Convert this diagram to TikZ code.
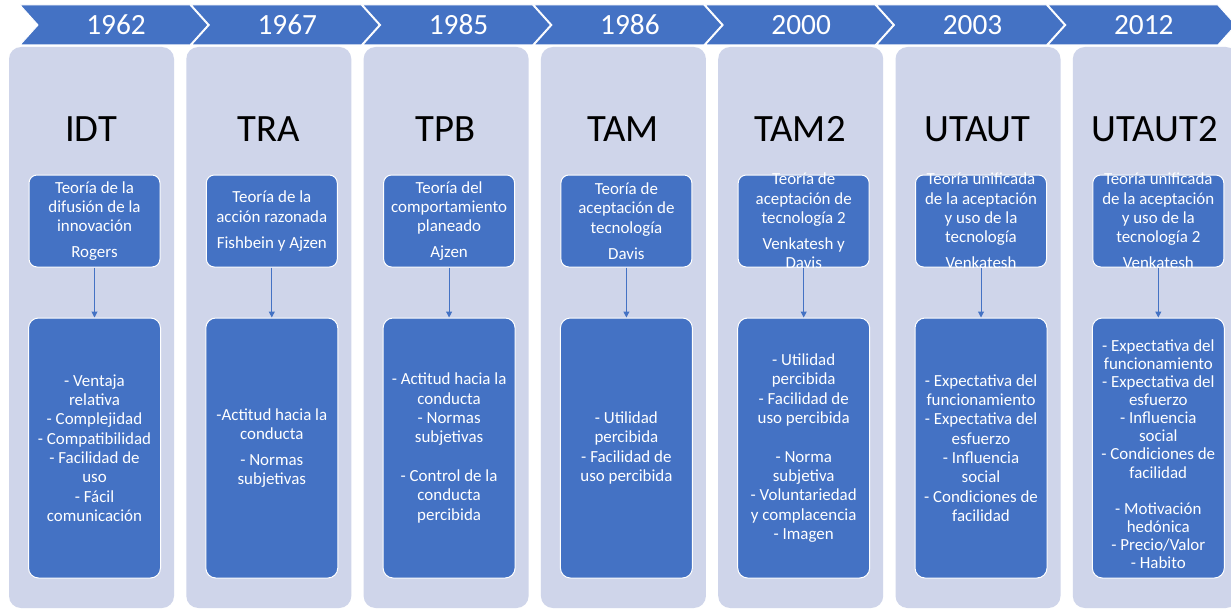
\documentclass[tikz,border=0pt]{standalone}
\usepackage{fontspec}
\setmainfont{Carlito}
\usetikzlibrary{arrows.meta}
\definecolor{accentblue}{HTML}{4472C4}
\definecolor{panelfill}{HTML}{CFD5EA}

% one column of the timeline: panel, heading, model box, arrow, factor box
% optional #1: extra options for the factor box
\newcommand\theorycol[5][]{%
  \pgfmathsetmacro\colL{9+177.3*(#2-1)}
  \node[panel] (p#2) at (\colL+82.5,327.5) {};
  \node[heading, anchor=base] (h#2) at (\colL+82,142) {#3};
  \node[topbox] (t#2) at (\colL+85.5,221) {};
  \node[boxtext] (tt#2) at (t#2.center) {#4};
  \node[botbox, boxtext, #1] (b#2) at (\colL+85.5,448) {#5};
  \draw[link] (t#2) -- (b#2);
}

\begin{document}
\begin{tikzpicture}[x=0.75pt,y=-0.75pt,
  panel/.style={fill=panelfill, rounded corners=9pt, minimum width=123.75pt,
    minimum height=420.75pt, inner sep=0pt},
  heading/.style={text=black, font=\fontsize{29}{34}\selectfont, inner sep=0pt},
  topbox/.style={fill=accentblue, draw=white, line width=0.75pt, rounded corners=6pt,
    minimum width=98.25pt, minimum height=69pt, inner sep=0pt},
  botbox/.style={fill=accentblue, draw=white, line width=0.75pt, rounded corners=7.5pt,
    minimum width=99pt, minimum height=195pt, inner sep=0pt},
  boxtext/.style={text=white, align=center, font=\fontsize{12.7}{14.5}\selectfont, inner sep=0pt},
  tightlines/.style={font=\fontsize{12.7}{13.6}\selectfont},
  link/.style={draw=accentblue, line width=0.75pt, -{Triangle[width=4.5pt,length=4.5pt]}},
  yearlabel/.style={text=white, font=\fontsize{22}{26}\selectfont, inner sep=0pt},
  chevron/.style={fill=accentblue, draw=white, line width=0.75pt}
]
\useasboundingbox (0,0) rectangle (1231,610);
\clip (0,0) rectangle (1231,610);
\fill[white] (0,0) rectangle (1231,610);

% year chevrons
\foreach \k/\yr in {0/1962,1/1967,2/1985,3/1986,4/2000,5/2003,6/2012}{
  \pgfmathsetmacro\xo{20+171.3*\k}
  \path[chevron] (\xo,5) -- (\xo+170,5) -- (\xo+188,25) -- (\xo+170,45)
    -- (\xo,45) -- (\xo+18,25) -- cycle;
  \node[yearlabel, anchor=base] (y\k) at (\xo+96,34.5) {\yr};
}

\theorycol{1}{IDT}
  {Teoría de la\\difusión de la\\innovación\\[5pt]Rogers}
  {- Ventaja\\relativa\\- Complejidad\\- Compatibilidad\\- Facilidad de\\uso\\- Fácil\\comunicación}

\theorycol{2}{TRA}
  {Teoría de la\\acción razonada\\[5pt]Fishbein y Ajzen}
  {-Actitud hacia la\\conducta\\[5pt]- Normas\\subjetivas}

\theorycol{3}{TPB}
  {Teoría del\\comportamiento\\planeado\\[5pt]Ajzen}
  {- Actitud hacia la\\conducta\\- Normas\\subjetivas\\[14.5pt]- Control de la\\conducta\\percibida}

\theorycol{4}{TAM}
  {Teoría de\\aceptación de\\tecnología\\[5pt]Davis}
  {- Utilidad\\percibida\\- Facilidad de\\uso percibida}

\theorycol{5}{TAM2}
  {Teoría de\\aceptación de\\tecnología 2\\[5pt]Venkatesh y\\Davis}
  {- Utilidad\\percibida\\- Facilidad de\\uso percibida\\[14.5pt]- Norma\\subjetiva\\- Voluntariedad\\y complacencia\\- Imagen}

\theorycol{6}{UTAUT}
  {Teoría unificada\\de la aceptación\\y uso de la\\tecnología\\[5pt]Venkatesh}
  {- Expectativa del\\funcionamiento\\- Expectativa del\\esfuerzo\\- Influencia\\social\\- Condiciones de\\facilidad}

% the factor list here sits a little below the middle of its box
\theorycol[tightlines]{7}{UTAUT2}
  {Teoría unificada\\de la aceptación\\y uso de la\\tecnología 2\\[5pt]Venkatesh}
  {\rule{0pt}{18pt}- Expectativa del\\funcionamiento\\- Expectativa del\\esfuerzo\\- Influencia\\social\\- Condiciones de\\facilidad\\[13.6pt]- Motivación\\hedónica\\- Precio/Valor\\- Habito}
\end{tikzpicture}
\end{document}
